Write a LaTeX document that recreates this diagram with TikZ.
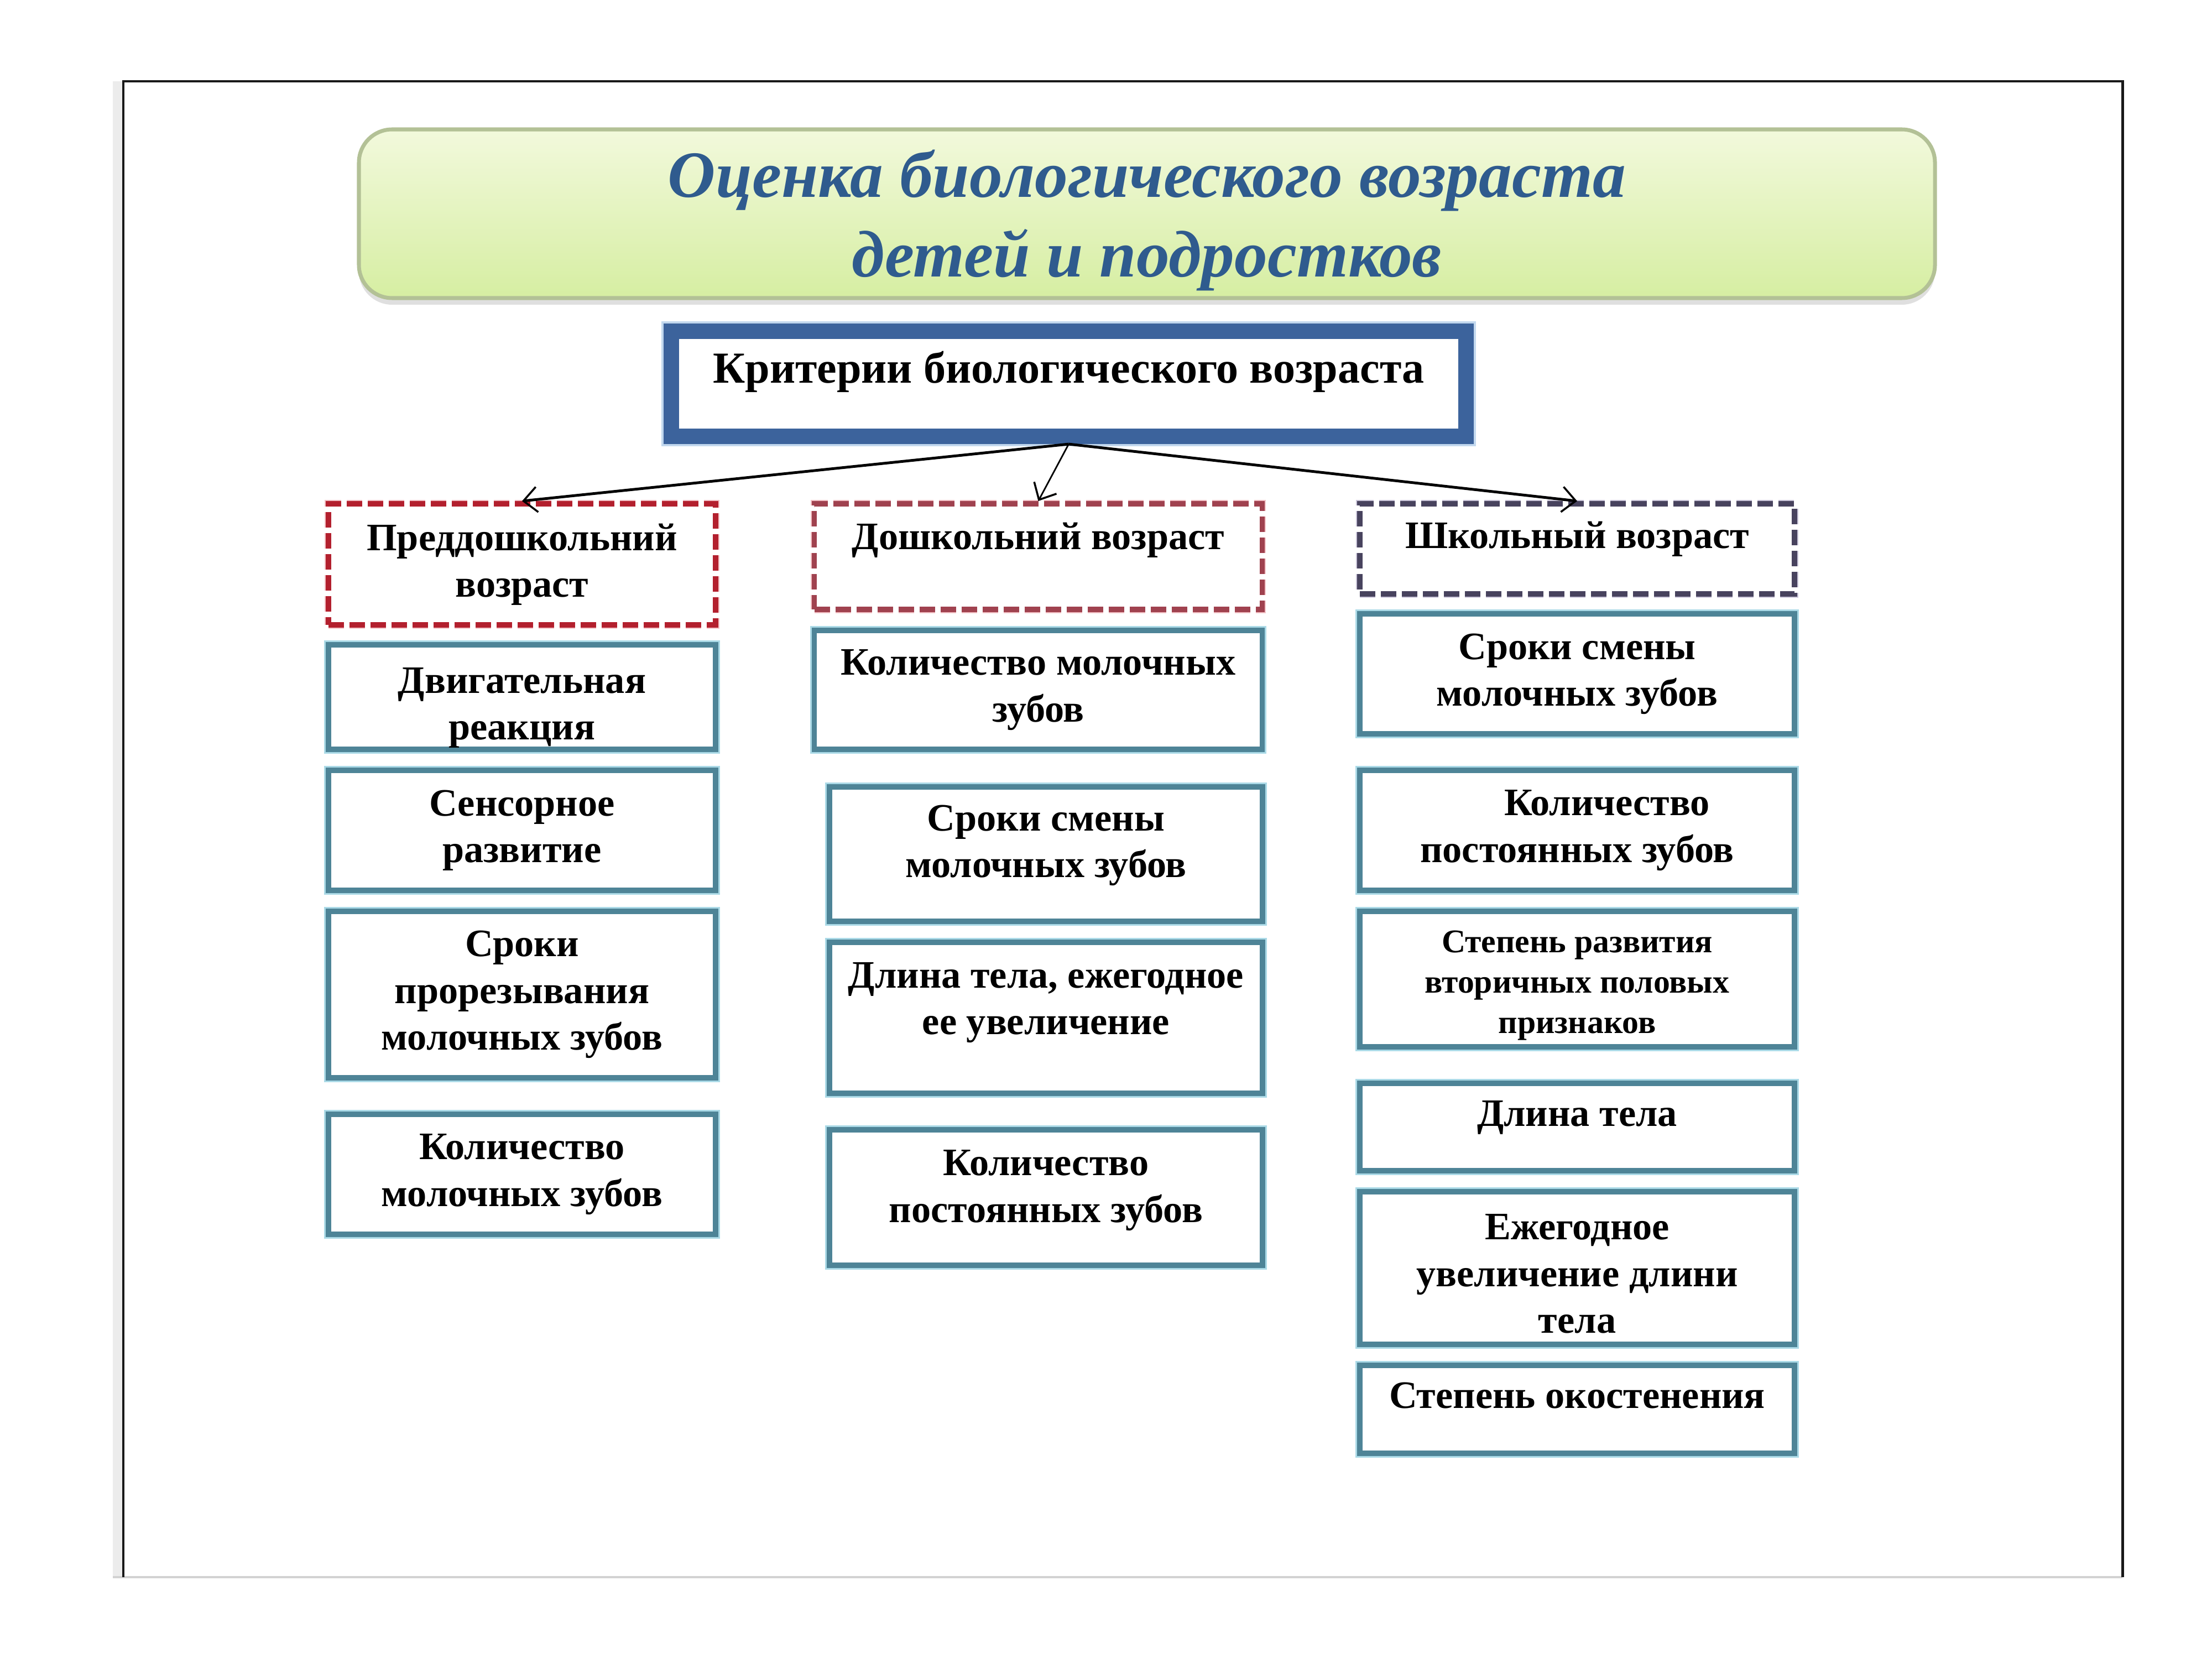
\documentclass[tikz,border=0pt]{standalone}
\usepackage{fontspec}
\setmainfont{Liberation Serif}
\usepackage{tikz}
\usetikzlibrary{arrows.meta}
\usetikzlibrary{shadows}

\definecolor{titleblue}{HTML}{2F5B8E}
\definecolor{titletop}{HTML}{F2F9DC}
\definecolor{titlebot}{HTML}{D6EEA2}
\definecolor{titleedge}{HTML}{B3C196}
\definecolor{critblue}{HTML}{3C639C}
\definecolor{crithalo}{HTML}{C2D8EE}
\definecolor{tealbox}{HTML}{4E8497}
\definecolor{tealhalo}{HTML}{ABDAE7}
\definecolor{redbox}{HTML}{B3202E}
\definecolor{rosebox}{HTML}{A0424F}
\definecolor{pinkhalo}{HTML}{F3C2C6}
\definecolor{plumbox}{HTML}{48435E}
\definecolor{plumhalo}{HTML}{CBC6DA}

\begin{document}
\begin{tikzpicture}[
    every node/.style={font=\bfseries\fontsize{20}{24}\selectfont, align=center, inner sep=0pt},
    cbox/.style={draw=tealbox, line width=2.6pt, preaction={draw=tealhalo, line width=4.4pt}, fill=white},
    dbox/.style={draw=#1, line width=2.8pt, dash pattern=on 0.28cm off 0.1cm, fill=white},
    lift/.style={text depth=#1},
    drop/.style={text height=#1},
    arr/.style={-{Straight Barb[length=7pt,width=13pt,line width=1pt]}, black}
  ]
  \useasboundingbox (0,0) rectangle (40,-30);

  % Frame
  \fill[gray!15] (2.04,-1.47) rectangle (2.23,-28.52);
  \draw[gray!35, line width=1.4pt] (2.04,-28.52) -- (38.38,-28.52);
  \draw[black!90, line width=1.4pt] (2.23,-28.52) -- (2.23,-1.47) -- (38.38,-1.47) -- (38.38,-28.52);

  % Title
  \node at (20.74,-3.865) (title) [minimum width=28.5cm, minimum height=3.05cm, rounded corners=0.6cm,
      top color=titletop, bottom color=titlebot, draw=titleedge, line width=2pt,
      drop shadow={opacity=0.25, shadow xshift=0cm, shadow yshift=-0.12cm},
      text=titleblue, font=\bfseries\itshape\fontsize{34}{41}\selectfont, drop=2.53cm]
      {Оценка биологического возраста\\детей и подростков};

  \node at (19.325,-6.94) (crit) [minimum width=14.37cm, minimum height=1.9cm, fill=white,
      draw=critblue, line width=8pt, preaction={draw=crithalo, line width=10pt},
      lift=0.6cm, font=\bfseries\fontsize{22.8}{27}\selectfont]
      {Критерии биологического возраста};

  % Preschool column
  \node at (9.44,-10.205) (pre) [dbox=redbox, preaction={draw=pinkhalo, line width=3.8pt},
      minimum width=7cm, minimum height=2.19cm] {Преддошкольний\\возраст};
  \node at (9.44,-12.605) (pre1) [cbox, minimum width=7cm, minimum height=1.89cm, drop=1.69cm] {Двигательная\\реакция};
  \node at (9.44,-15.015) (pre2) [cbox, minimum width=7cm, minimum height=2.17cm] {Сенсорное\\развитие};
  \node at (9.44,-17.985) (pre3) [cbox, minimum width=7cm, minimum height=3.01cm] {Сроки\\прорезывания\\молочных зубов};
  \node at (9.44,-21.235) (pre4) [cbox, minimum width=7cm, minimum height=2.17cm] {Количество\\молочных зубов};

  % Kindergarten column
  \node at (18.775,-10.065) (dosh) [dbox=rosebox, preaction={draw=pinkhalo, line width=3.8pt},
      minimum width=8.1cm, minimum height=1.91cm, lift=0.75cm] {Дошкольний возраст};
  \node at (18.775,-12.475) (dosh1) [cbox, minimum width=8.1cm, minimum height=2.15cm] {Количество молочных\\зубов};
  \node at (18.915,-15.445) (dosh2) [cbox, minimum width=7.83cm, minimum height=2.43cm, lift=0.46cm] {Сроки смены\\молочных зубов};
  \node at (18.915,-18.405) (dosh3) [cbox, minimum width=7.83cm, minimum height=2.73cm, lift=0.7cm] {Длина тела, ежегодное\\ее увеличение};
  \node at (18.915,-21.655) (dosh4) [cbox, minimum width=7.83cm, minimum height=2.45cm, lift=0.41cm] {Количество\\постоянных зубов};

  % School column
  \node at (28.52,-9.925) (school) [dbox=plumbox, preaction={draw=plumhalo, line width=3.8pt},
      minimum width=7.86cm, minimum height=1.63cm, lift=0.5cm] {Школьный возраст};
  \node at (28.52,-12.185) (school1) [cbox, minimum width=7.86cm, minimum height=2.17cm] {Сроки смены\\молочных зубов};
  \node at (28.52,-15.015) (school2) [cbox, minimum width=7.86cm, minimum height=2.17cm] {\hspace*{1.08cm}Количество\\постоянных зубов};
  \node at (28.52,-17.705) (school3) [cbox, minimum width=7.86cm, minimum height=2.45cm, drop=2.08cm,
      font=\bfseries\fontsize{17}{20.7}\selectfont] {Степень развития\\вторичных половых\\признаков};
  \node at (28.52,-20.38) (school4) [cbox, minimum width=7.86cm, minimum height=1.58cm, lift=0.5cm] {Длина тела};
  \node at (28.52,-22.93) (school5) [cbox, minimum width=7.86cm, minimum height=2.76cm, drop=2.36cm] {Ежегодное\\увеличение длини\\тела};
  \node at (28.52,-25.485) (school6) [cbox, minimum width=7.86cm, minimum height=1.59cm, lift=0.5cm] {Степень окостенения};

  % Arrows
  \draw[arr, line width=1.4pt] (crit.south) -- (pre.north);
  \draw[arr, line width=0.8pt] (crit.south) -- (dosh.north);
  \draw[arr, line width=1.4pt] (crit.south) -- (school.north);

\end{tikzpicture}
\end{document}
